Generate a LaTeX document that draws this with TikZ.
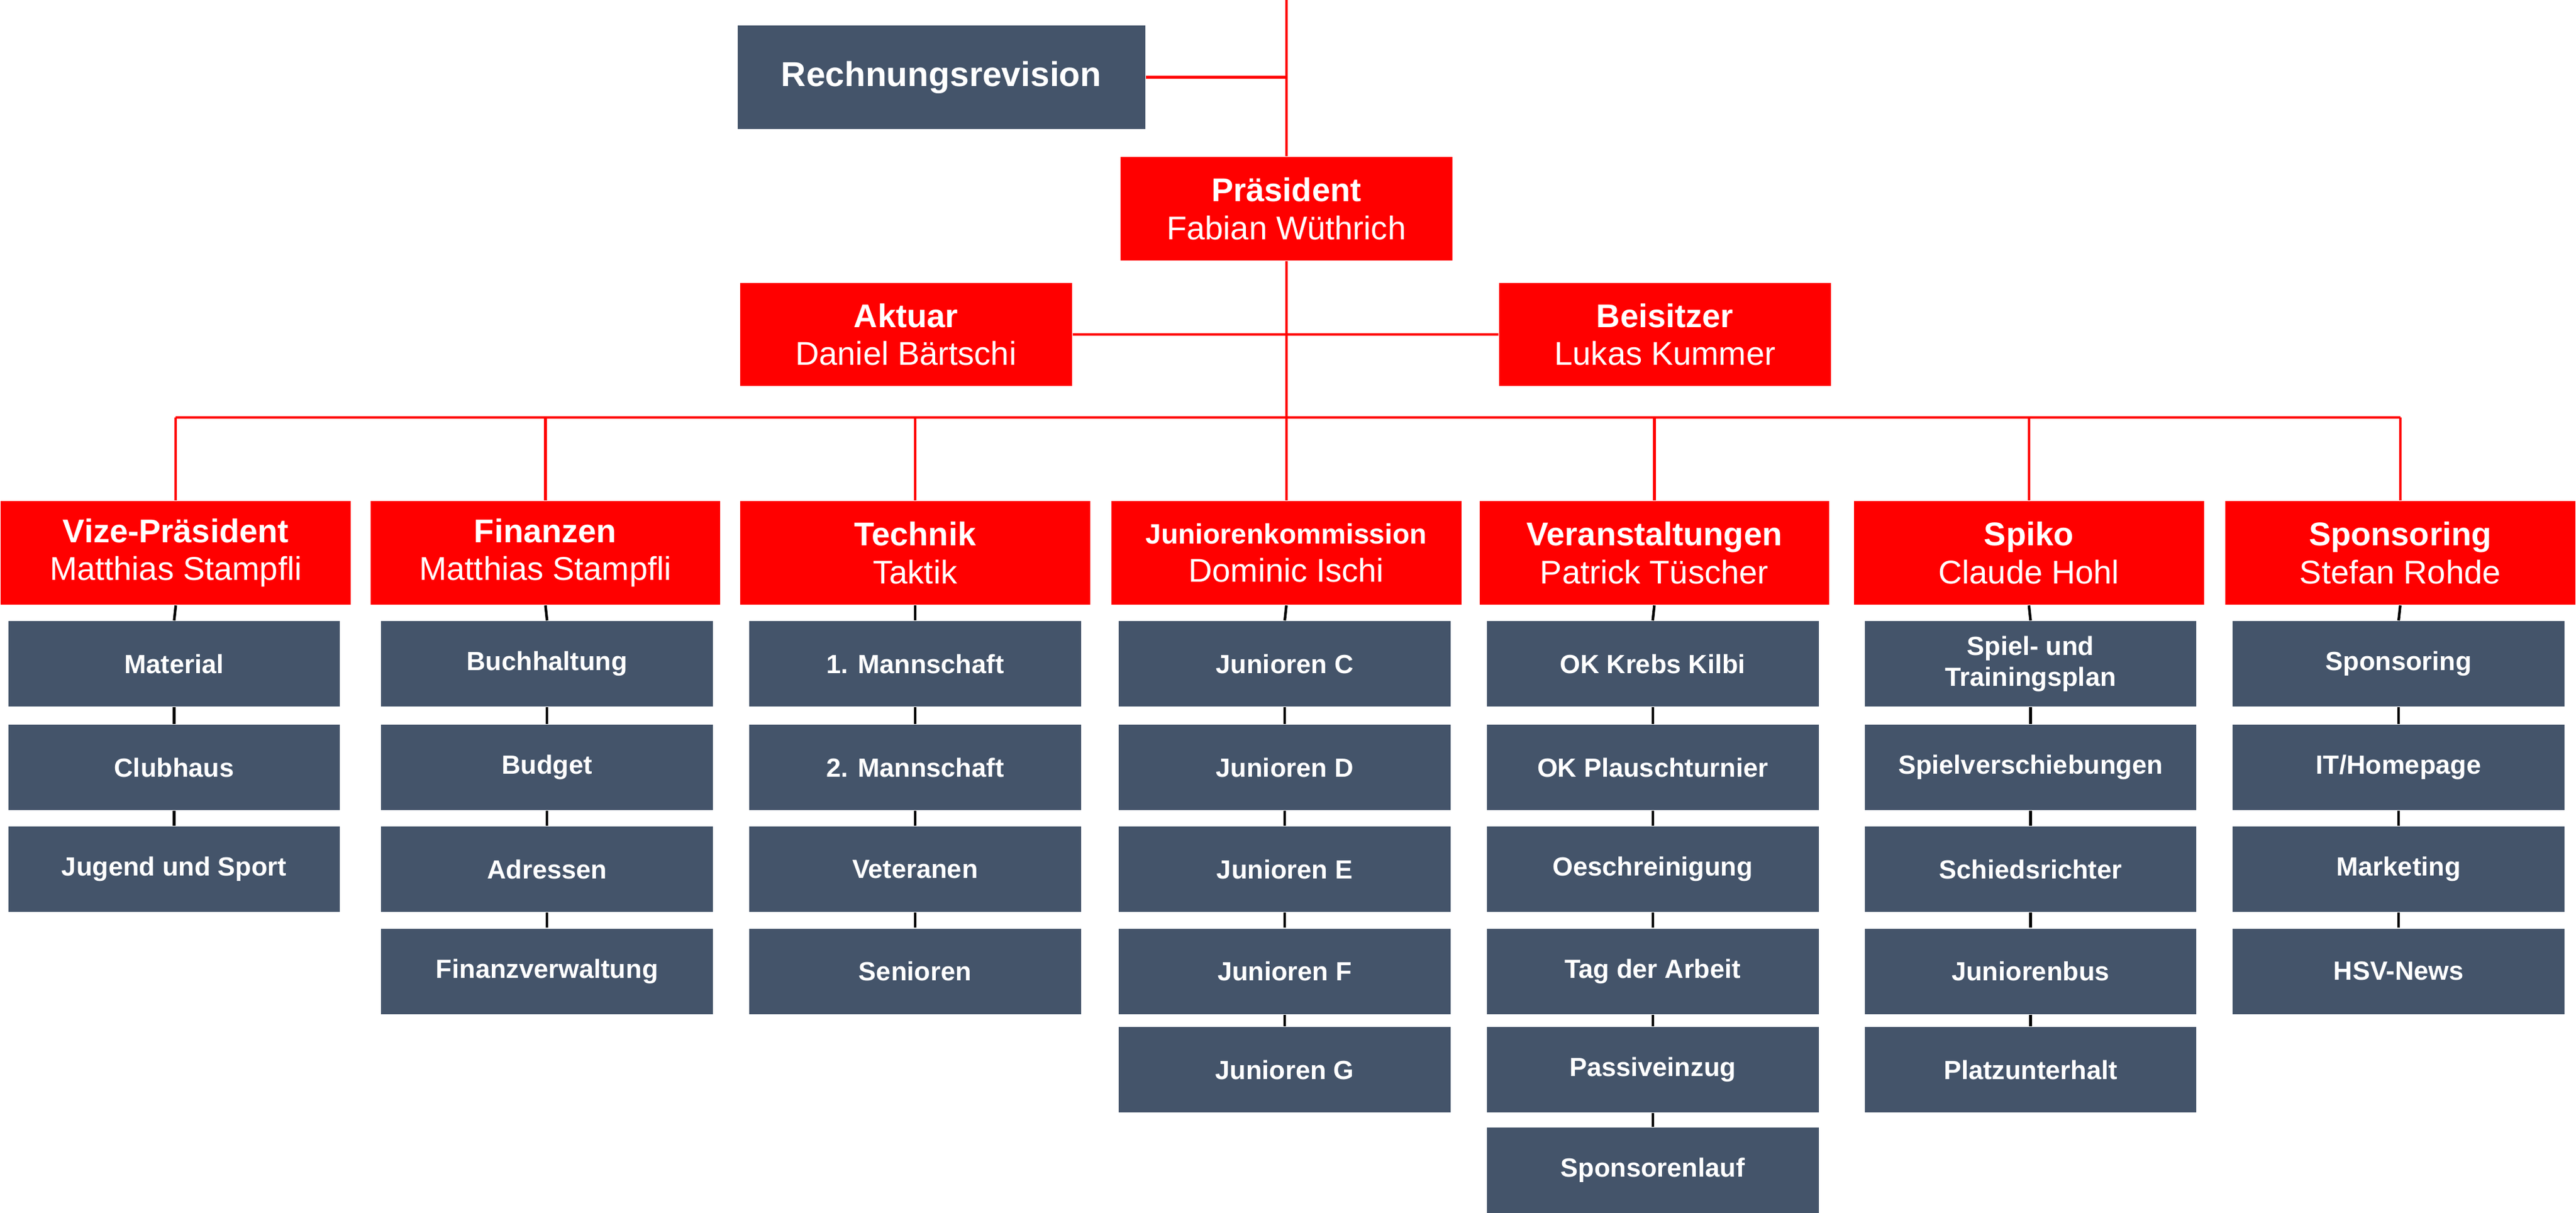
\documentclass[tikz,border=0pt]{standalone}
\usepackage{fontspec}
\setmainfont{Liberation Sans}
\definecolor{hred}{HTML}{FF0000}
\definecolor{slate}{HTML}{44546A}
\begin{document}
\begin{tikzpicture}[x=0.5pt,y=-0.5pt,
  hbox/.style={fill=hred,text=white,minimum width=106.5pt,minimum height=31.5pt,inner sep=1pt,align=center,font=\fontsize{10}{11.5}\selectfont},
  sbox/.style={fill=slate,text=white,minimum width=101pt,minimum height=26pt,inner sep=1pt,align=center,font=\bfseries\fontsize{8}{9.5}\selectfont},
  conn/.style={hred,line width=0.8pt},
  sconn/.style={black,line width=0.8pt}]
\useasboundingbox (0,0) rectangle (1568,738);
\node[sbox,minimum width=124pt,minimum height=31.5pt,font=\bfseries\fontsize{10.5}{12}\selectfont] (rr) at (573,47) {Rechnungsrevision};
\node[hbox,minimum width=101pt] (pr) at (783,127) {\textbf{Präsident}\\Fabian Wüthrich};
\node[hbox,minimum width=101pt] (ak) at (551.5,203.5) {\textbf{Aktuar}\\Daniel Bärtschi};
\node[hbox,minimum width=101pt] (be) at (1013.5,203.5) {\textbf{Beisitzer}\\Lukas Kummer};
\coordinate (top) at (783,0);
\coordinate (rj) at (783,47);
\coordinate (bus) at (783,254);
\draw[conn] (top) -- (pr.north);
\draw[conn] (rr.east) -- (rj);
\draw[conn] (ak.east) -- (be.west);
\draw[conn] (pr.south) -- (bus);
\foreach \n/\x/\t/\p in {c1/107/Vize-Präsident/Matthias Stampfli,c2/332/Finanzen/Matthias Stampfli,c3/557/Technik/Taktik/Iwan Schläfli,c5/1007/Veranstaltungen/Patrick Tüscher,c6/1235/Spiko/Claude Hohl,c7/1461/Sponsoring/Stefan Rohde}{
  \node[hbox] (\n) at (\x,336.5) {\textbf{\t}\\\p};
  \coordinate (\n b) at (\x,254);
}
\node[hbox] (c4) at (783,336.5) {\textbf{\fontsize{8.5}{10}\selectfont Juniorenkommission}\\Dominic Ischi};
\coordinate (c4b) at (783,254);
\draw[conn] (c1b) -- (c7b);
\foreach \n in {c1,c2,c3,c5,c6,c7}{\draw[conn] (\n b) -- (\n.north);}
\draw[conn] (bus) -- (c4.north);
% sub boxes
\def\rows{{404,467,529,591,651,712}}
\foreach \n/\x/\lst in {
 c1/106/{Material,Clubhaus,Jugend und Sport},
 c2/333/{Buchhaltung,Budget,Adressen,Finanzverwaltung},
 c3/557/{1. Mannschaft,2. Mannschaft,Veteranen,Senioren},
 c4/782/{Junioren C,Junioren D,Junioren E,Junioren F,Junioren G},
 c5/1006/{OK Krebs Kilbi,OK Plauschturnier,Oeschreinigung,Tag der Arbeit,Passiveinzug,Sponsorenlauf},
 c6/1236/{Spiel- und\\Trainingsplan,Spielverschiebungen,Schiedsrichter,Juniorenbus,Platzunterhalt},
 c7/1460/{Sponsoring,IT/Homepage,Marketing,HSV-News}}{
  \foreach \t [count=\i] in \lst {
    \pgfmathsetmacro\yy{\rows[\i-1]}
    \node[sbox] (\n s\i) at (\x,\yy) {\t};
    \pgfmathtruncatemacro\pr{\i-1}
    \ifnum\i=1 \draw[sconn] (\n.south) -- (\n s1.north);
    \else \draw[sconn] (\n s\pr.south) -- (\n s\i.north); \fi
  }
}
\end{tikzpicture}
\end{document}
